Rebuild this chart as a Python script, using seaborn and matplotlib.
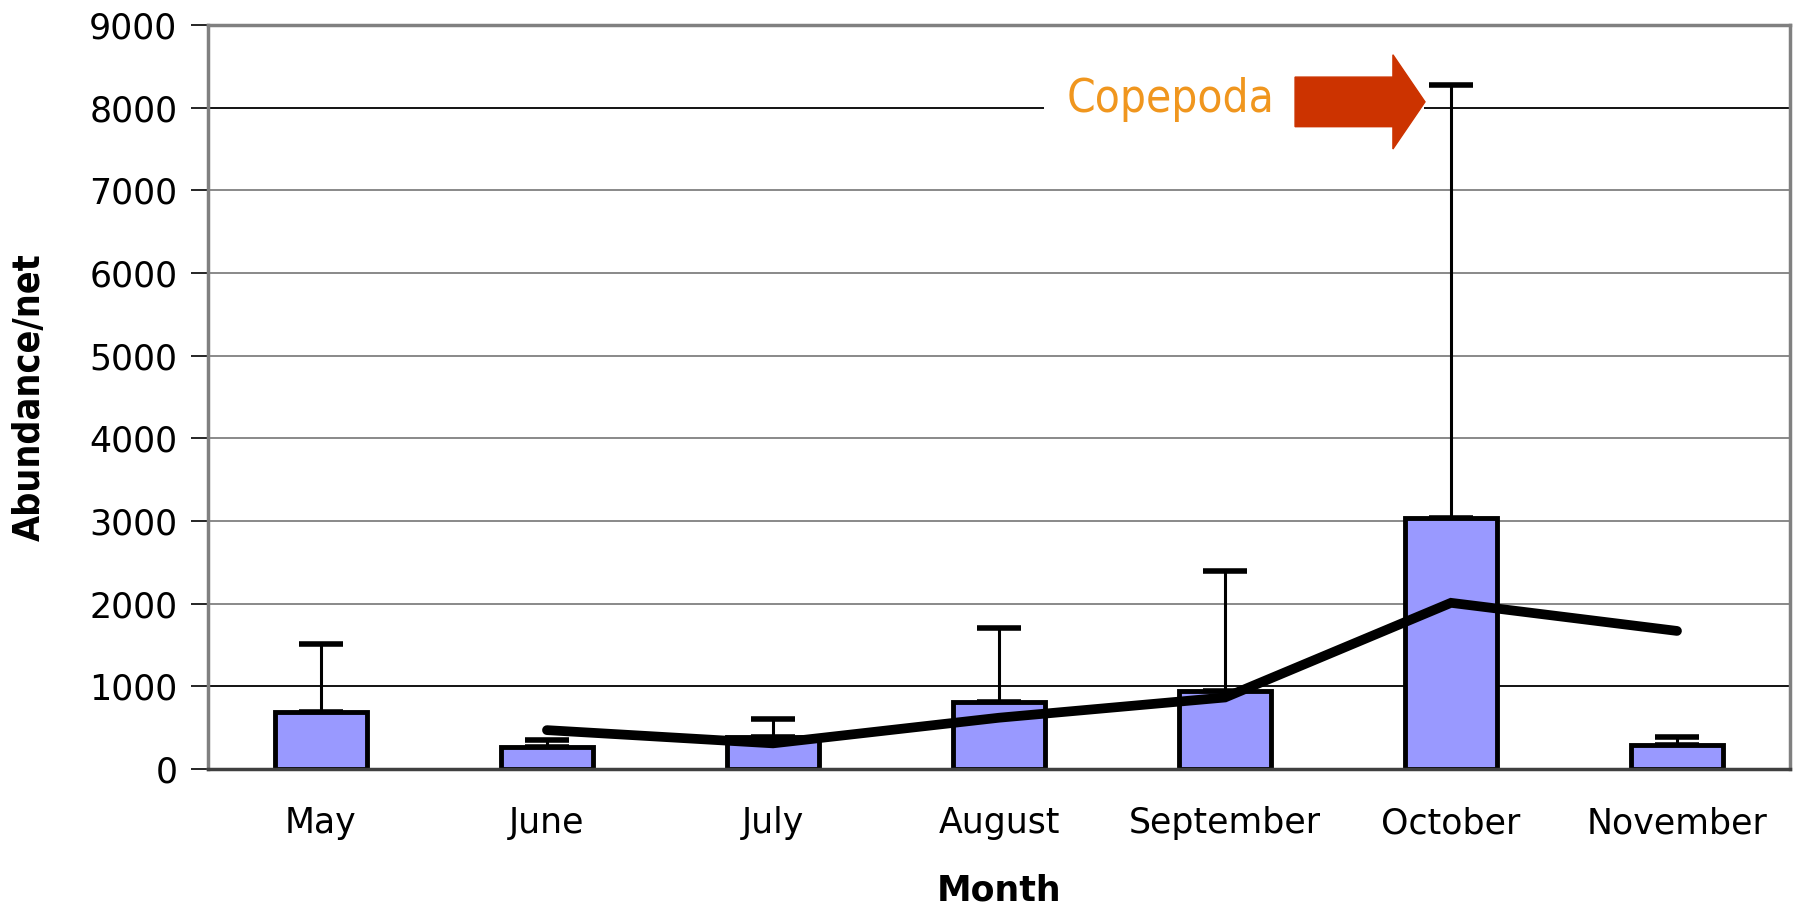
import numpy as np
import pandas as pd
import seaborn as sns
import matplotlib.pyplot as plt
from matplotlib.patches import Rectangle

months = ["May", "June", "July", "August", "September", "October", "November"]
abundance = [690, 260, 385, 810, 940, 3035, 290]
sd_upper = [820, 90, 220, 900, 1460, 5235, 95]
trend_months = ["June", "July", "August", "September", "October", "November"]
trend_values = [470, 310, 620, 865, 2010, 1670]
y_ticks = [0, 1000, 2000, 3000, 4000, 5000, 6000, 7000, 8000, 9000]

df = pd.DataFrame({"Month": months, "Abundance": abundance, "SD": sd_upper})
pos = np.arange(len(months))

sns.set_style("white")
plt.rcParams["text.color"] = "black"
plt.rcParams["xtick.color"] = "black"
plt.rcParams["ytick.color"] = "black"
plt.rcParams["axes.labelcolor"] = "black"
plt.rcParams["font.family"] = ["DejaVu Sans"]

fig = plt.figure(figsize=(17.99, 9.16), dpi=100)
ax = fig.add_axes([0.1156, 0.1605, 0.8794, 0.8122])

# grid lines
for t in y_ticks:
    c = "black" if t in (1000, 8000) else "#808080"
    ax.axhline(t, color=c, lw=1.3, zorder=0)

sns.barplot(data=df, x="Month", y="Abundance", color="#9999FF", width=0.41,
            edgecolor="black", linewidth=3.5, saturation=1, ax=ax, zorder=2, errorbar=None)
ax.errorbar(pos, abundance, yerr=[np.zeros(len(abundance)), sd_upper], fmt="none",
            ecolor="black", elinewidth=2.2, capsize=16, capthick=4, zorder=1)

trend_x = [months.index(m) for m in trend_months]
sns.lineplot(x=trend_x, y=trend_values, color="black", lw=7, ax=ax, zorder=4,
             solid_capstyle="round", solid_joinstyle="miter")

ax.set_xlim(-0.5, len(months) - 0.5)
ax.set_ylim(0, 9000)
ax.set_yticks(y_ticks)
ax.set_xticks(pos)
ax.set_xticks(np.arange(-0.5, len(months)), minor=True)
ax.tick_params(axis="x", which="major", length=0, pad=27, labelsize=25)
ax.tick_params(axis="x", which="minor", length=12, width=1.2, color="#606060", direction="out")
ax.tick_params(axis="y", length=12, width=1.2, color="black", direction="out", pad=10,
               labelsize=25, left=True)

for side in ["left", "right", "top"]:
    ax.spines[side].set_color("#808080")
    ax.spines[side].set_linewidth(2.5)
ax.spines["bottom"].set_color("#404040")
ax.spines["bottom"].set_linewidth(2.5)

ax.set_xlabel("Month", fontsize=25, fontweight="bold", labelpad=24)
ylab = ax.set_ylabel("Abundance/net", fontsize=30, fontweight="bold", fontstretch="condensed",
                     labelpad=30)

# Copepoda annotation
ax.add_patch(Rectangle((3.20, 7550), 1.68, 950, facecolor="white", edgecolor="none", zorder=1))
cop = ax.text(3.30, 7950, "Copepoda", color="#F0961E", fontsize=34, fontstretch="condensed",
              va="baseline", ha="left", zorder=5)
ax.arrow(4.31, 8070, 0.575, 0, width=600, head_width=1140, head_length=0.142,
         length_includes_head=True, color="#CC3300", zorder=5)

# squeeze the narrow-looking texts to the widths seen in the original
fig.canvas.draw()
r = fig.canvas.get_renderer()
w = cop.get_window_extent(r).width
cop.set_fontsize(cop.get_fontsize() * 208 / w)
h = ylab.get_window_extent(r).height
ylab.set_fontsize(ylab.get_fontsize() * 287 / h)

fig.savefig("out.png", dpi=100)
